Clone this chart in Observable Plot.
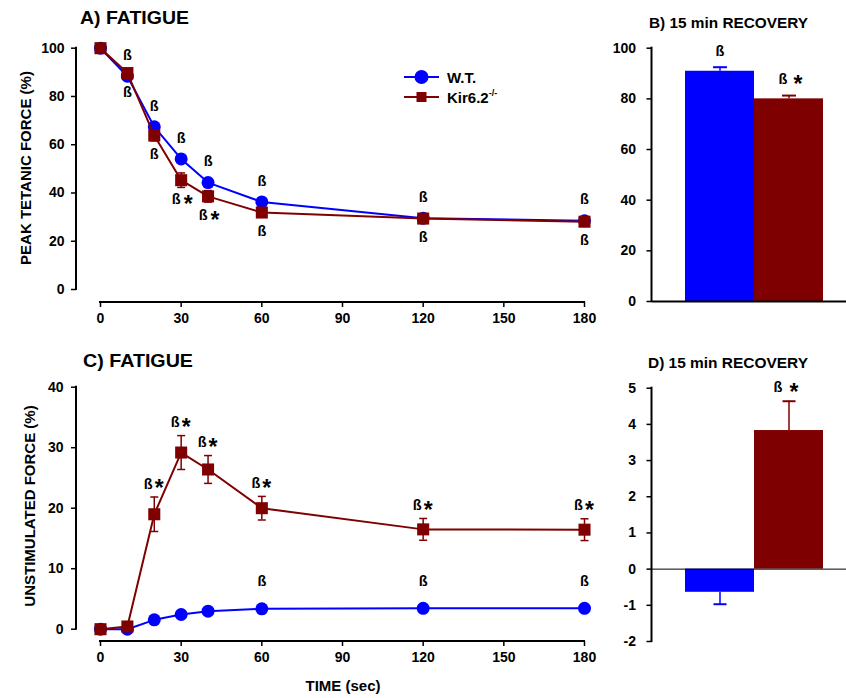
<!DOCTYPE html>
<html><head><meta charset="utf-8">
<script src="https://cdn.jsdelivr.net/npm/d3@7"></script>
<script src="https://cdn.jsdelivr.net/npm/@observablehq/plot@0.6"></script>
<style>
html,body{margin:0;padding:0;background:#fff;}
#root{position:relative;width:846px;height:698px;overflow:hidden;font-family:"Liberation Sans",Arial,sans-serif;}
</style></head><body><div id="root"></div>
<script>
// ---------- data ----------
const time = [0, 10, 20, 30, 40, 60, 120, 180];
const xTicks = [0, 30, 60, 90, 120, 150, 180];

// A) peak tetanic force (%)
const wtPeak = [100, 88.4, 67.4, 54.1, 44.3, 36.3, 29.5, 28.5];
const kirPeak = [100, 89.7, 63.8, 45.3, 38.6, 31.9, 29.4, 28.1];
const kirPeakSem = [0, 0.8, 2.2, 3.0, 2.4, 1.5, 1.0, 1.0];
const wtPeakMark = ["", "ß", "ß", "ß", "ß", "ß", "ß", "ß"];
const kirPeakMark = ["", "ß", "ß", "ß", "ß", "ß", "ß", "ß"];
const kirPeakStar = [false, false, false, true, true, false, false, false];
const peakTicks = [0, 20, 40, 60, 80, 100];

// C) unstimulated force (%)
const wtUnstim = [0, 0, 1.55, 2.43, 2.98, 3.37, 3.45, 3.45];
const kirUnstim = [0, 0.45, 19.0, 29.2, 26.4, 20.0, 16.5, 16.45];
const kirUnstimSem = [0, 0.3, 2.85, 2.8, 2.3, 1.95, 1.8, 1.8];
const wtUnstimMark = ["", "", "", "", "", "ß", "ß", "ß"];
const kirUnstimMark = ["", "", "ß", "ß", "ß", "ß", "ß", "ß"];
const kirUnstimStar = [false, false, true, true, true, true, true, true];
const unstimTicks = [0, 10, 20, 30, 40];

// B, D) 15 min recovery
const groups = ["W.T.", "Kir6.2"];
const groupSup = ["", "-/-"];
const recPeak = [90.9, 80.0];
const recPeakSem = [1.6, 1.3];
const recPeakMark = ["ß", "ß"];
const recPeakStar = [false, true];
const recPeakTicks = [0, 20, 40, 60, 80, 100];
const recUnstim = [-0.64, 3.83];
const recUnstimSem = [0.33, 0.81];
const recUnstimMark = ["", "ß"];
const recUnstimStar = [false, true];
const recUnstimTicks = [-2, -1, 0, 1, 2, 3, 4, 5];

// ---------- styles ----------
const BLUE = "#0000ff", RED = "#7f0000";
const FONT = "Liberation Sans, Arial, sans-serif";
const root = document.getElementById("root");
const idx = d3.range(time.length);
const gidx = d3.range(groups.length);
const baseStyle = {fontFamily: FONT, fontSize: "14px", fontWeight: "bold", color: "#000", background: "transparent", overflow: "visible"};
const capSymbol = {draw(ctx, size) { const w = Math.sqrt(size / Math.PI); ctx.moveTo(-w, 0); ctx.lineTo(w, 0); }};
const plainFmt = d => String(d);

function place(el, left, top) {
  el.style.position = "absolute"; el.style.left = left + "px"; el.style.top = top + "px";
  root.appendChild(el);
}
function axisLines(yTicks, xT, drawX, sw = 2) {
  return (index, scales, values, dims) => {
    const g = d3.create("svg:g").attr("stroke", "#000").attr("stroke-width", sw);
    g.append("line").attr("x1", dims.marginLeft).attr("x2", dims.marginLeft)
      .attr("y1", scales.y(yTicks[0]) + 1).attr("y2", scales.y(yTicks[yTicks.length - 1]) - 1);
    if (drawX) {
      const yy = dims.height - dims.marginBottom;
      g.append("line").attr("x1", scales.x(xT[0]) - 1).attr("x2", scales.x(xT[xT.length - 1]) + 1).attr("y1", yy).attr("y2", yy);
    }
    return g.node();
  };
}
function annot(vals, marks, stars, dyB, opts = {}) {
  const bdx = opts.bdx ?? -5, sdx = opts.sdx ?? 6, sdy = opts.sdy ?? 5;
  const fx = opts.xacc;
  return [
    Plot.text(opts.data, {filter: i => !stars[i], x: fx, y: i => vals[i], text: i => marks[i], dy: dyB, fontSize: 14.5, fontWeight: "bold", fill: "#000"}),
    Plot.text(opts.data, {filter: i => stars[i], x: fx, y: i => vals[i], text: i => marks[i], dx: bdx, dy: dyB, fontSize: 14.5, fontWeight: "bold", fill: "#000"}),
    Plot.text(opts.data, {filter: i => stars[i], x: fx, y: i => vals[i], text: () => "*", dx: sdx, dy: dyB + sdy, fontSize: 23, fontWeight: "bold", fill: "#000"})
  ];
}

// ---------- panel A ----------
const kirPeakLo = kirPeak.map((v, i) => v - kirPeakSem[i]);
const kirPeakHi = kirPeak.map((v, i) => v + kirPeakSem[i]);
const plotA = Plot.plot({
  width: 610, height: 340, marginLeft: 76, marginTop: 47.7, marginBottom: 38, marginRight: 20,
  style: baseStyle,
  x: {domain: [0, 180], range: [100, 584], axis: null},
  y: {domain: [0, 100], range: [289, 47.7], axis: null},
  marks: [
    Plot.axisX({ticks: xTicks, tickFormat: plainFmt, tickSize: 5, tickPadding: 6, label: null, strokeWidth: 1.5}),
    Plot.axisY({ticks: peakTicks, tickFormat: plainFmt, tickSize: 5, tickPadding: 7, label: null, strokeWidth: 1.5}),
    axisLines(peakTicks, xTicks, true),
    Plot.line(idx, {x: i => time[i], y: i => wtPeak[i], stroke: BLUE, strokeWidth: 2}),
    Plot.dot(idx, {x: i => time[i], y: i => wtPeak[i], r: 6.5, fill: BLUE, stroke: "none"}),
    Plot.ruleX(idx, {x: i => time[i], y1: i => kirPeakLo[i], y2: i => kirPeakHi[i], stroke: RED, strokeWidth: 1.5}),
    Plot.dot(idx, {x: i => time[i], y: i => kirPeakLo[i], r: 4, symbol: capSymbol, fill: "none", stroke: RED, strokeWidth: 1.5}),
    Plot.dot(idx, {x: i => time[i], y: i => kirPeakHi[i], r: 4, symbol: capSymbol, fill: "none", stroke: RED, strokeWidth: 1.5}),
    Plot.line(idx, {x: i => time[i], y: i => kirPeak[i], stroke: RED, strokeWidth: 2}),
    Plot.dot(idx, {x: i => time[i], y: i => kirPeak[i], r: 6.8, symbol: "square", fill: RED, stroke: "none"}),
    ...annot(wtPeak, wtPeakMark, wtPeak.map(() => false), -21, {data: idx, xacc: i => time[i]}),
    ...annot(kirPeak, kirPeakMark, kirPeakStar, 19, {data: idx, xacc: i => time[i], bdx: -5, sdx: 7, sdy: 5})
  ]
});
place(plotA, 0, 0);

// ---------- panel B ----------
const recPeakHi = recPeak.map((v, i) => v + recPeakSem[i]);
const plotB = Plot.plot({
  width: 246, height: 340, marginLeft: 651.5 - 600, marginTop: 47.7, marginBottom: 39, marginRight: 0,
  style: baseStyle,
  x: {domain: groups, range: [85, 223], padding: 0, axis: null},
  y: {domain: [0, 100], range: [301, 47.7], axis: null},
  color: {domain: groups, range: [BLUE, RED]},
  marks: [
    Plot.barY(gidx, {x: i => groups[i], y: i => recPeak[i], fill: i => groups[i]}),
    Plot.ruleX(gidx, {x: i => groups[i], y1: i => recPeak[i], y2: i => recPeakHi[i], stroke: i => groups[i], strokeWidth: 1.5}),
    Plot.dot(gidx, {x: i => groups[i], y: i => recPeakHi[i], r: 7, symbol: capSymbol, fill: "none", stroke: i => groups[i], strokeWidth: 2}),
    Plot.axisY({ticks: recPeakTicks, tickFormat: plainFmt, tickSize: 5, tickPadding: 11, label: null, strokeWidth: 1.5}),
    Plot.ruleY([0], {strokeWidth: 2}),
    axisLines(recPeakTicks, null, false),
    ...annot(recPeakHi, recPeakMark, recPeakStar, -16, {data: gidx, xacc: i => groups[i], bdx: -6, sdx: 9, sdy: 5})
  ]
});
place(plotB, 600, 0);

// ---------- panel C ----------
const kirUnLo = kirUnstim.map((v, i) => v - kirUnstimSem[i]);
const kirUnHi = kirUnstim.map((v, i) => v + kirUnstimSem[i]);
const plotC = Plot.plot({
  width: 610, height: 358, marginLeft: 76, marginTop: 46.7, marginBottom: 57, marginRight: 20,
  style: baseStyle,
  x: {domain: [0, 180], range: [100, 584], axis: null},
  y: {domain: [0, 40], range: [288.7, 46.7], axis: null},
  marks: [
    Plot.axisX({ticks: xTicks, tickFormat: plainFmt, tickSize: 5, tickPadding: 6, label: null, strokeWidth: 1.5}),
    Plot.axisY({ticks: unstimTicks, tickFormat: plainFmt, tickSize: 5, tickPadding: 8, label: null, strokeWidth: 1.5}),
    axisLines(unstimTicks, xTicks, true),
    Plot.line(idx, {x: i => time[i], y: i => wtUnstim[i], stroke: BLUE, strokeWidth: 2}),
    Plot.dot(idx, {x: i => time[i], y: i => wtUnstim[i], r: 6.5, fill: BLUE, stroke: "none"}),
    Plot.ruleX(idx, {x: i => time[i], y1: i => kirUnLo[i], y2: i => kirUnHi[i], stroke: RED, strokeWidth: 1.5}),
    Plot.dot(idx, {x: i => time[i], y: i => kirUnLo[i], r: 4, symbol: capSymbol, fill: "none", stroke: RED, strokeWidth: 1.5}),
    Plot.dot(idx, {x: i => time[i], y: i => kirUnHi[i], r: 4, symbol: capSymbol, fill: "none", stroke: RED, strokeWidth: 1.5}),
    Plot.line(idx, {x: i => time[i], y: i => kirUnstim[i], stroke: RED, strokeWidth: 2}),
    Plot.dot(idx, {x: i => time[i], y: i => kirUnstim[i], r: 6.8, symbol: "square", fill: RED, stroke: "none"}),
    ...annot(wtUnstim, wtUnstimMark, wtUnstim.map(() => false), -27, {data: idx, xacc: i => time[i]}),
    ...annot(kirUnHi, kirUnstimMark, kirUnstimStar, -13, {data: idx, xacc: i => time[i], bdx: -6, sdx: 5, sdy: 5})
  ]
});
place(plotC, 0, 340);

// ---------- panel D ----------
const recUnEnd = recUnstim.map((v, i) => v + Math.sign(v) * recUnstimSem[i]);
const plotD = Plot.plot({
  width: 246, height: 358, marginLeft: 651.5 - 600, marginTop: 47.7, marginBottom: 57, marginRight: 0,
  style: baseStyle,
  x: {domain: groups, range: [85, 223], padding: 0, axis: null},
  y: {domain: [-2, 5], range: [301, 47.7], axis: null},
  color: {domain: groups, range: [BLUE, RED]},
  marks: [
    Plot.barY(gidx, {x: i => groups[i], y: i => recUnstim[i], fill: i => groups[i]}),
    Plot.ruleX(gidx, {x: i => groups[i], y1: i => recUnstim[i], y2: i => recUnEnd[i], stroke: i => groups[i], strokeWidth: 1.5}),
    Plot.dot(gidx, {x: i => groups[i], y: i => recUnEnd[i], r: 6.5, symbol: capSymbol, fill: "none", stroke: i => groups[i], strokeWidth: 2}),
    Plot.axisY({ticks: recUnstimTicks, tickFormat: plainFmt, tickSize: 5, tickPadding: 11, label: null, strokeWidth: 1.5}),
    Plot.ruleY([0], {strokeWidth: 1}),
    axisLines(recUnstimTicks, null, false),
    ...annot(recUnEnd, recUnstimMark, recUnstimStar, -14, {data: gidx, xacc: i => groups[i], bdx: -11, sdx: 5, sdy: 5})
  ]
});
place(plotD, 600, 340);

// ---------- titles, axis labels, legend ----------
const ov = d3.create("svg").attr("width", 846).attr("height", 698)
  .style("font-family", FONT).style("font-weight", "bold").style("pointer-events", "none");
const t = (x, y, s, size, anchor = "start", tr = null, len = null) => {
  const e = ov.append("text").attr("x", x).attr("y", y).attr("font-size", size).attr("text-anchor", anchor).text(s);
  if (tr) e.attr("transform", tr).attr("x", 0).attr("y", 0);
  if (len) e.attr("textLength", len).attr("lengthAdjust", "spacingAndGlyphs");
  return e;
};
t(80, 24, "A) FATIGUE", 17.5, "start", null, 109);
t(649, 28, "B) 15 min RECOVERY", 14, "start", null, 159);
t(83, 367, "C) FATIGUE", 17.5, "start", null, 110);
t(648, 368, "D) 15 min RECOVERY", 14, "start", null, 160);
t(0, 0, "PEAK TETANIC FORCE (%)", 15, "middle", "translate(31,168) rotate(-90)");
t(0, 0, "UNSTIMULATED FORCE (%)", 15, "middle", "translate(35,506) rotate(-90)");
t(343, 691, "TIME (sec)", 15, "middle");
// legend
const lg = ov.append("g");
const legendY = [77, 97];
const legendColor = [BLUE, RED];
gidx.forEach(i => {
  lg.append("line").attr("x1", 404).attr("x2", 439).attr("y1", legendY[i]).attr("y2", legendY[i]).attr("stroke", legendColor[i]).attr("stroke-width", 2);
  if (i === 0) lg.append("circle").attr("cx", 421.5).attr("cy", legendY[i]).attr("r", 7).attr("fill", legendColor[i]);
  else lg.append("rect").attr("x", 416.5).attr("y", legendY[i] - 5).attr("width", 10).attr("height", 10).attr("fill", legendColor[i]);
  const tx = lg.append("text").attr("x", 447).attr("y", legendY[i] + 6).attr("font-size", 15).text(groups[i]);
  if (groupSup[i]) tx.append("tspan").attr("font-size", 9).attr("dy", -7).text(groupSup[i]);
});
place(ov.node(), 0, 0);
</script>
</body></html>
